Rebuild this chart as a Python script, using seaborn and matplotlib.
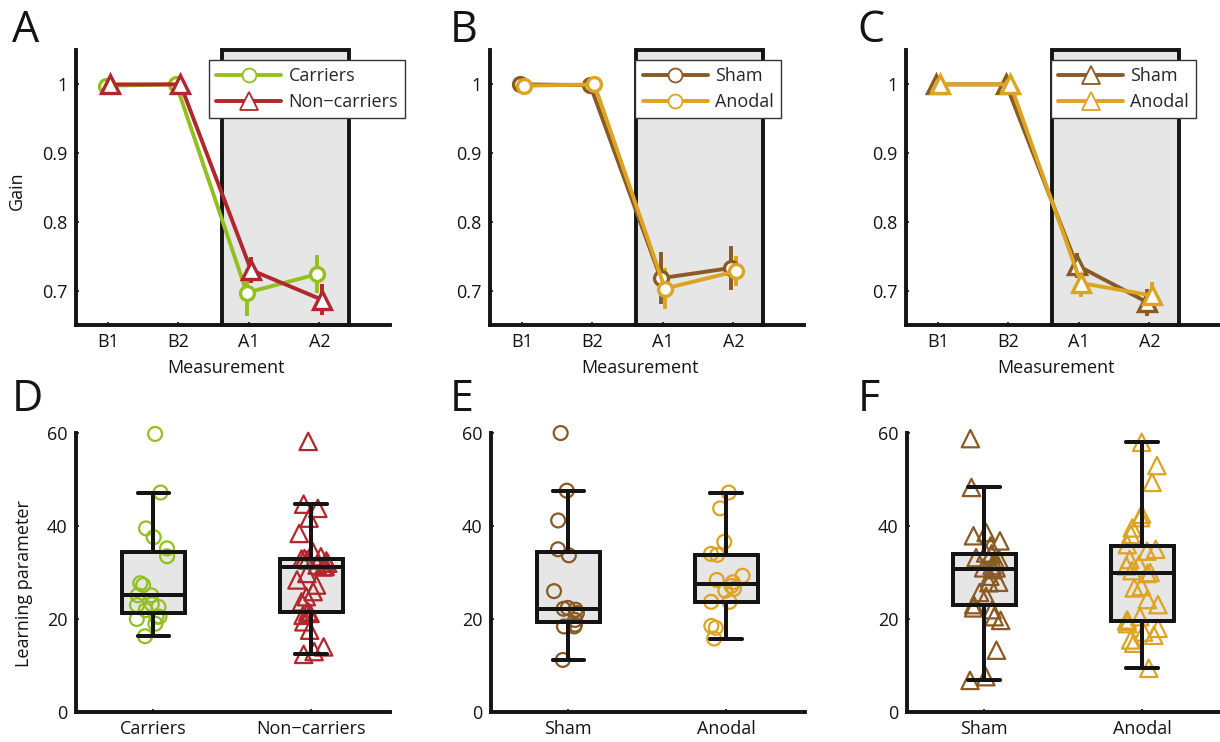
import numpy as np
import pandas as pd
import matplotlib
matplotlib.use('Agg')
import matplotlib.pyplot as plt
from matplotlib.patches import Rectangle
import seaborn as sns

# ---------------- data ----------------
measurements = ['B1', 'B2', 'A1', 'A2']

carriers_gain = [0.998, 1.000, 0.697, 0.724]
carriers_err = [0.0, 0.0, 0.034, 0.028]
noncarriers_gain = [1.000, 1.000, 0.730, 0.687]
noncarriers_err = [0.0, 0.0, 0.019, 0.022]

sham_gain_B = [1.000, 0.999, 0.718, 0.733]
sham_err_B = [0.0, 0.0, 0.038, 0.032]
anodal_gain_B = [0.998, 1.000, 0.703, 0.728]
anodal_err_B = [0.0, 0.0, 0.030, 0.022]

sham_gain_C = [1.000, 1.000, 0.737, 0.683]
sham_err_C = [0.0, 0.0, 0.018, 0.020]
anodal_gain_C = [1.000, 1.000, 0.711, 0.693]
anodal_err_C = [0.0, 0.0, 0.020, 0.020]

groups_D = ['Carriers', 'Non\u2212carriers']
carriers_lp = [59.8, 47.2, 39.5, 37.6, 35.2, 33.5, 27.7, 27.3, 25.1, 25.1,
               23.0, 23.2, 22.6, 21.9, 20.5, 20.5, 20.0, 19.0, 16.3]
noncarriers_lp = [58.2, 44.7, 43.8, 41.7, 38.4, 34.5, 33.4, 33.0, 32.9, 32.7,
                  32.5, 32.0, 31.6, 31.3, 31.2, 29.8, 28.4, 27.3, 25.9, 24.8,
                  23.7, 21.6, 21.2, 20.8, 19.4, 17.6, 14.0, 13.0, 12.4]

groups_EF = ['Sham', 'Anodal']
sham_lp_E = [60.0, 47.6, 41.2, 35.0, 33.7, 26.0, 22.4, 22.2, 22.0, 21.3,
             19.8, 18.8, 18.4, 18.4, 11.2]
anodal_lp_E = [47.2, 43.8, 36.6, 34.0, 33.8, 29.3, 28.4, 27.9, 27.1, 26.5,
               26.1, 23.7, 23.7, 18.5, 18.1, 15.8]
sham_lp_F = [58.8, 48.3, 38.6, 37.9, 36.8, 35.7, 34.2, 34.0, 33.2, 32.8,
             32.4, 31.5, 31.0, 31.0, 30.6, 29.2, 27.9, 27.8, 25.7, 24.9,
             23.1, 22.4, 22.0, 20.5, 19.7, 13.3, 7.6, 6.8]
anodal_lp_F = [58.0, 53.0, 49.4, 42.5, 41.8, 39.6, 38.2, 36.0, 35.0, 34.6,
               32.8, 31.7, 31.4, 30.4, 30.0, 29.8, 27.0, 26.7, 24.2, 23.1,
               20.5, 19.8, 19.5, 19.0, 18.0, 17.2, 16.5, 15.5, 14.8, 9.4]

GREEN = '#93c01f'
RED = '#b0272d'
BROWN = '#8a5a24'
GOLD = '#dda323'
DARK = '#141414'
BOXFILL = '#e6e6e6'

# ---------------- style ----------------
sns.set_style('ticks')
plt.rcParams['font.family'] = ['Open Sans', 'DejaVu Sans']
np.random.seed(3)

fig = plt.figure(figsize=(12.2, 7.42), dpi=100)

top_b, top_h = 0.562, 0.3706
bot_b, bot_h = 0.0404, 0.376
lefts_top = [0.0623, 0.4016, 0.7426]
lefts_bot = [0.0623, 0.4025, 0.7434]
W = 0.2574

axA = fig.add_axes([lefts_top[0], top_b, W, top_h])
axB = fig.add_axes([lefts_top[1], top_b, W, top_h])
axC = fig.add_axes([lefts_top[2], top_b, W, top_h])
axD = fig.add_axes([lefts_bot[0], bot_b, W, bot_h])
axE = fig.add_axes([lefts_bot[1], bot_b, W, bot_h])
axF = fig.add_axes([lefts_bot[2], bot_b, W, bot_h])


def style(ax):
    for s in ['top', 'right']:
        ax.spines[s].set_visible(False)
    for s in ['left', 'bottom']:
        ax.spines[s].set_linewidth(2.8)
        ax.spines[s].set_color(DARK)
    ax.tick_params(direction='in', length=2, width=1.2, labelsize=13,
                   pad=6, colors=DARK)


def gain_panel(ax, series, legend_x):
    x = np.arange(1, len(measurements) + 1)
    offsets = [-0.03, 0.03]
    ax.add_patch(Rectangle((2.62, 0.65), 1.8, 0.40, facecolor=BOXFILL,
                           edgecolor=DARK, linewidth=2.8, zorder=0.5,
                           clip_on=False))
    for (label, vals, errs, color, marker), off in zip(series, offsets):
        xs = x + off
        msize = 10 if marker == 'o' else 13
        ax.errorbar(xs, vals, yerr=errs, fmt='none', ecolor=color,
                    elinewidth=2.8, capsize=0, zorder=2)
        sns.lineplot(x=xs, y=vals, ax=ax, color=color, linewidth=2.8,
                     marker=marker, markersize=msize,
                     markerfacecolor='white', markeredgecolor=color,
                     markeredgewidth=2.4, label=label, zorder=3)
    ax.set_xlim(0.55, 5.0)
    ax.set_ylim(0.65, 1.05)
    ax.set_xticks(x)
    ax.set_xticklabels(measurements)
    ax.set_yticks([0.7, 0.8, 0.9, 1.0])
    ax.set_yticklabels(['0.7', '0.8', '0.9', '1'])
    ax.set_xlabel('Measurement', fontsize=13, color=DARK)
    ax.xaxis.set_label_coords(0.478, -0.122)
    ax.set_ylabel('')
    style(ax)
    leg = ax.legend(loc='upper left', bbox_to_anchor=(legend_x, 0.964),
                    borderaxespad=0, frameon=True, fancybox=False,
                    edgecolor='#333333', framealpha=1, fontsize=13,
                    handlelength=3.6, handletextpad=0.4, borderpad=0.4,
                    labelspacing=0.45)
    leg.get_frame().set_linewidth(1.0)
    for h in leg.get_lines():
        h.set_markeredgewidth(1.3)


def lp_panel(ax, groups, values_list, colors, markers):
    df = pd.DataFrame({
        'group': np.repeat(groups, [len(v) for v in values_list]),
        'value': np.concatenate(values_list),
    })
    sns.boxplot(data=df, x='group', y='value', order=groups, width=0.4,
                color=BOXFILL, saturation=1, linecolor=DARK, linewidth=2.8,
                showfliers=False, zorder=1, ax=ax)
    for g, vals, color, marker in zip(groups, values_list, colors, markers):
        n0 = len(ax.collections)
        size = 10 if marker == 'o' else 12.5
        sns.stripplot(x=[g] * len(vals), y=vals, order=groups, color=color,
                      marker=marker, size=size, jitter=0.11,
                      zorder=2, ax=ax)
        for coll in ax.collections[n0:]:
            if len(coll.get_offsets()) == 0:
                coll.remove()
                continue
            coll.set_edgecolors(color)
            coll.set_facecolors('none')
            coll.set_linewidth(1.6)
            coll.set_clip_on(False)
    sns.boxplot(data=df, x='group', y='value', order=groups, width=0.4,
                fill=False, color=DARK, linecolor=DARK, linewidth=2.8,
                showfliers=False, zorder=3, ax=ax)
    ax.set_xlim(-0.49, 1.5)
    ax.set_ylim(0, 60)
    ax.set_yticks([0, 20, 40, 60])
    ax.set_xlabel('')
    ax.set_ylabel('')
    style(ax)


gain_panel(axA, [('Carriers', carriers_gain, carriers_err, GREEN, 'o'),
                 ('Non\u2212carriers', noncarriers_gain, noncarriers_err, RED, '^')],
           0.424)
gain_panel(axB, [('Sham', sham_gain_B, sham_err_B, BROWN, 'o'),
                 ('Anodal', anodal_gain_B, anodal_err_B, GOLD, 'o')],
           0.463)
gain_panel(axC, [('Sham', sham_gain_C, sham_err_C, BROWN, '^'),
                 ('Anodal', anodal_gain_C, anodal_err_C, GOLD, '^')],
           0.462)
axA.set_ylabel('Gain', fontsize=13, color=DARK)
axA.yaxis.set_label_coords(-0.159, 0.49)

lp_panel(axD, groups_D, [carriers_lp, noncarriers_lp], [GREEN, RED], ['o', '^'])
lp_panel(axE, groups_EF, [sham_lp_E, anodal_lp_E], [BROWN, GOLD], ['o', 'o'])
lp_panel(axF, groups_EF, [sham_lp_F, anodal_lp_F], [BROWN, GOLD], ['^', '^'])
axD.set_ylabel('Learning parameter', fontsize=13, color=DARK)
axD.yaxis.set_label_coords(-0.137, 0.46)

# panel letters
for letter, x, y in [('A', 0.0098, 0.9434), ('B', 0.369, 0.9434),
                     ('C', 0.703, 0.9434), ('D', 0.0098, 0.446),
                     ('E', 0.369, 0.446), ('F', 0.703, 0.446)]:
    fig.text(x, y, letter, fontsize=31, color=DARK, va='baseline', ha='left')

fig.savefig('out.png', dpi=100)
